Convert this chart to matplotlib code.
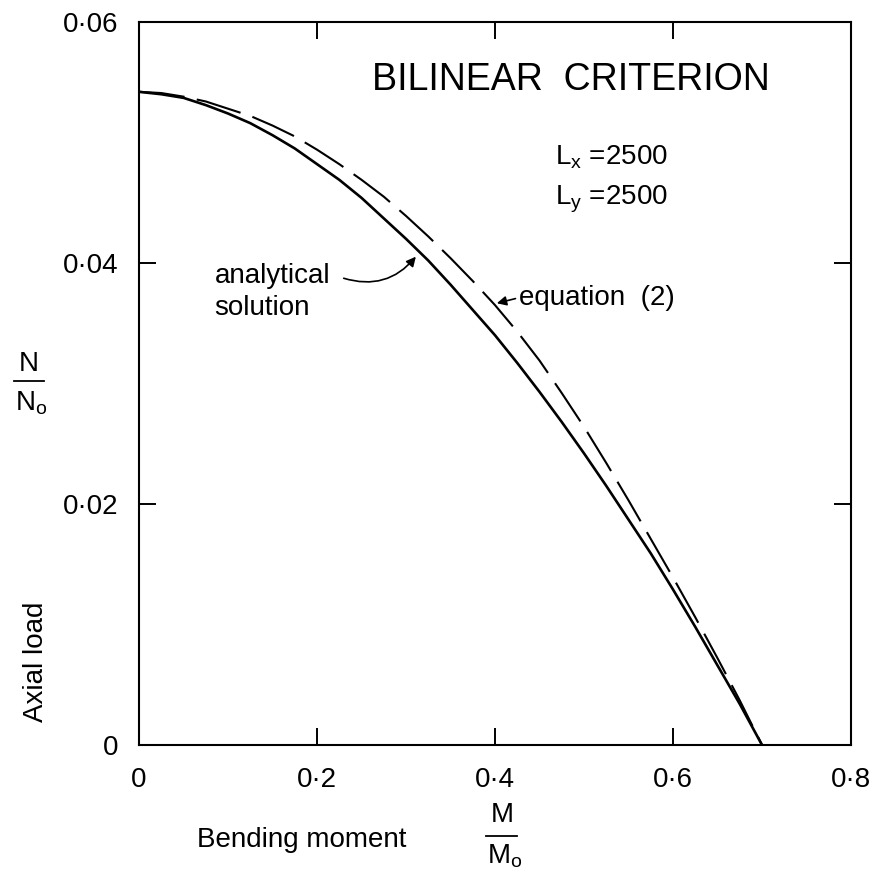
import matplotlib
matplotlib.use("Agg")
from matplotlib import pyplot as plt
from matplotlib.lines import Line2D

plt.rcParams['font.family'] = ['Liberation Sans', 'DejaVu Sans']

# values
m_analytical = [0.0, 0.025, 0.05, 0.075, 0.10, 0.125, 0.15, 0.175, 0.20, 0.225, 0.25, 0.275, 0.30, 0.325,
                0.35, 0.375, 0.40, 0.425, 0.45, 0.475, 0.50, 0.525, 0.55, 0.575, 0.60, 0.625, 0.65, 0.675, 0.70]
n_analytical = [0.0542, 0.0540, 0.0537, 0.0531, 0.0524, 0.0516, 0.0506, 0.0495, 0.0482, 0.0469, 0.0454, 0.0437,
                0.0420, 0.0402, 0.0382, 0.0361, 0.0340, 0.0317, 0.0293, 0.0268, 0.0242, 0.0215, 0.0187, 0.0159,
                0.0129, 0.0098, 0.0066, 0.0034, 0.0]
m_equation = [0.0, 0.025, 0.05, 0.075, 0.10, 0.125, 0.15, 0.175, 0.20, 0.225, 0.25, 0.275, 0.30, 0.325,
              0.35, 0.375, 0.40, 0.425, 0.45, 0.475, 0.50, 0.525, 0.55, 0.575, 0.60, 0.625, 0.65, 0.675, 0.70]
n_equation = [0.0542, 0.0541, 0.0538, 0.0534, 0.0528, 0.0522, 0.0514, 0.0505, 0.0494, 0.0482, 0.0469, 0.0455,
              0.0439, 0.0422, 0.0404, 0.0385, 0.0365, 0.0343, 0.0319, 0.0292, 0.0264, 0.0234, 0.0203, 0.0171,
              0.0139, 0.0106, 0.0072, 0.0037, 0.0]
xticks = [0, 0.2, 0.4, 0.6, 0.8]
xlabels = ["0", "0·2", "0·4", "0·6", "0·8"]
yticks = [0, 0.02, 0.04, 0.06]
ylabels = ["0", "0·02", "0·04", "0·06"]

fig = plt.figure(figsize=(8.76, 8.77), dpi=100)
ax = fig.add_axes([0.1587, 0.1505, 0.8128, 0.8245])

ax.plot(m_analytical, n_analytical, color="black", lw=1.9, linestyle="-")
ax.plot(m_equation, n_equation, color="black", lw=1.5, dashes=(22, 6))

ax.set_xlim(0, 0.8)
ax.set_ylim(0, 0.06)
ax.set_xticks(xticks)
ax.set_xticklabels(xlabels)
ax.set_yticks(yticks)
ax.set_yticklabels(ylabels)
ax.tick_params(direction="in", length=12, width=1.4, top=True, right=True, labelsize=20)
ax.tick_params(axis="x", pad=16)
ax.tick_params(axis="y", pad=15)
for s in ax.spines.values():
    s.set_linewidth(1.5)

ax.text(0.262, 0.0552, "BILINEAR  CRITERION", fontsize=27, va="center", ha="left")
ax.text(0.467, 0.0488, "L$_\\mathregular{x}$ =2500", fontsize=20, va="center", ha="left")
ax.text(0.467, 0.0453, "L$_\\mathregular{y}$ =2500", fontsize=20, va="center", ha="left")

ax.text(0.085, 0.0376, "analytical\nsolution", fontsize=20, va="center", ha="left",
        linespacing=1.3)
ax.annotate("", xy=(0.313, 0.0407), xytext=(0.227, 0.0388),
            arrowprops=dict(arrowstyle="-|>", color="black", lw=1.2,
                            connectionstyle="arc3,rad=0.35", mutation_scale=14))

ax.text(0.427, 0.0371, "equation  (2)", fontsize=20, va="center", ha="left")
ax.annotate("", xy=(0.399, 0.0366), xytext=(0.426, 0.0371),
            arrowprops=dict(arrowstyle="-|>", color="black", lw=1.2, mutation_scale=14))

# axis labels
fig.text(0.225, 0.042, "Bending moment", fontsize=20, va="center", ha="left")
fig.text(0.573, 0.071, "M", fontsize=20, va="center", ha="center")
fig.text(0.576, 0.024, "M$_\\mathregular{o}$", fontsize=20, va="center", ha="center")
fig.add_artist(Line2D([0.555, 0.590], [0.047, 0.047], color="black", lw=1.3))

fig.text(0.041, 0.177, "Axial load", fontsize=20, rotation=90, va="bottom", ha="center")
fig.text(0.033, 0.585, "N", fontsize=20, va="center", ha="center")
fig.text(0.036, 0.540, "N$_\\mathregular{o}$", fontsize=20, va="center", ha="center")
fig.add_artist(Line2D([0.016, 0.050], [0.565, 0.565], color="black", lw=1.3))

fig.savefig("out.png", dpi=100)
